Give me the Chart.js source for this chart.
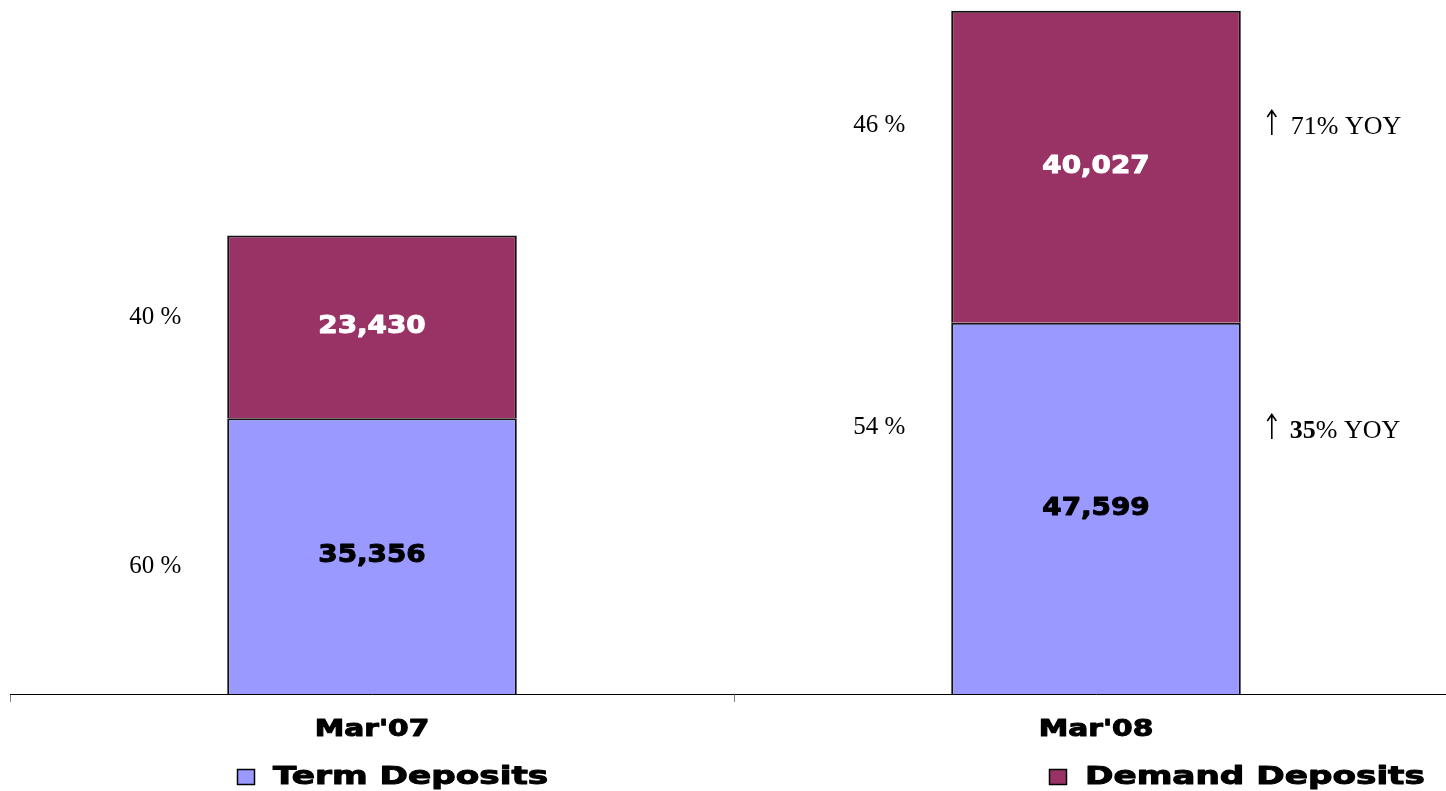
<!DOCTYPE html>
<html>
<head>
<meta charset="utf-8">
<script src="https://cdn.jsdelivr.net/npm/chart.js@4.4.1/dist/chart.umd.min.js"></script>
<style>
  html, body { margin: 0; padding: 0; background: #fff; overflow: hidden; }
  #wrap { width: 1458px; height: 791px; }
</style>
</head>
<body>
<div id="wrap"><canvas id="depositChart" width="1458" height="791"></canvas></div>
<script>
const categories = ["Mar'07", "Mar'08"];
const termDeposits = [35356, 47599];
const demandDeposits = [23430, 40027];

const termColor = "#9999FF";
const demandColor = "#993366";

const sansBold = "bold 24px 'DejaVu Sans'";
const serif = "25px 'Liberation Serif'";

// wide heavy text: stretch horizontally and stroke over the fill
function drawText(ctx, text, x, y, font, color, stretch, align) {
    ctx.save();
    ctx.translate(x, y);
    ctx.scale(stretch, 1);
    ctx.font = font;
    ctx.fillStyle = color;
    ctx.strokeStyle = color;
    ctx.lineWidth = 1;
    ctx.lineJoin = "round";
    ctx.textAlign = align || "center";
    ctx.textBaseline = "middle";
    ctx.fillText(text, 0, 0);
    ctx.strokeText(text, 0, 0);
    ctx.restore();
}

function drawPlain(ctx, text, x, y, font) {
    ctx.save();
    ctx.font = font;
    ctx.fillStyle = "#000";
    ctx.textAlign = "center";
    ctx.textBaseline = "middle";
    ctx.fillText(text, x, y);
    ctx.restore();
}

function drawArrow(ctx, x, y) {
    ctx.save();
    ctx.strokeStyle = "#000";
    ctx.lineWidth = 1.6;
    ctx.beginPath();
    ctx.moveTo(x, y + 12);
    ctx.lineTo(x, y - 12);
    ctx.moveTo(x - 4.5, y - 6);
    ctx.lineTo(x, y - 12.5);
    ctx.lineTo(x + 4.5, y - 6);
    ctx.stroke();
    ctx.restore();
}

function share(part, i) {
    return Math.round(part[i] / (termDeposits[i] + demandDeposits[i]) * 100);
}

function growth(series) {
    return Math.round((series[1] / series[0] - 1) * 100);
}

const labelPlugin = {
    id: "depositLabels",
    afterDraw(chart) {
        const ctx = chart.ctx;
        const xScale = chart.scales.x;
        const termBars = chart.getDatasetMeta(0).data;
        const demandBars = chart.getDatasetMeta(1).data;

        // values inside each segment
        termBars.forEach((bar, i) => {
            const mid = (bar.y + bar.base) / 2;
            drawText(ctx, termDeposits[i].toLocaleString("en-US"), bar.x, mid, sansBold, "#000", 1.16);
        });
        demandBars.forEach((bar, i) => {
            const mid = (bar.y + bar.base) / 2;
            drawText(ctx, demandDeposits[i].toLocaleString("en-US"), bar.x, mid, sansBold, "#fff", 1.16);
        });

        // share of total, left of each bar
        const shareY = { term: [566, 427], demand: [317, 125] };
        termBars.forEach((bar, i) => {
            const left = bar.x - bar.width / 2;
            drawPlain(ctx, share(termDeposits, i) + " %", left - 72, shareY.term[i], serif);
            drawPlain(ctx, share(demandDeposits, i) + " %", left - 72, shareY.demand[i], serif);
        });

        // year on year growth, right of the latest bar
        const last = termBars[termBars.length - 1];
        const gx = last.x + last.width / 2 + 31;
        drawArrow(ctx, gx, 123);
        drawArrow(ctx, gx, 427);

        ctx.save();
        ctx.fillStyle = "#000";
        ctx.textBaseline = "middle";
        ctx.textAlign = "left";
        ctx.font = "26px 'Liberation Serif'";
        ctx.fillText(growth(demandDeposits) + "% YOY", gx + 19, 127);

        ctx.font = "bold 26px 'Liberation Serif'";
        const num = String(growth(termDeposits));
        ctx.fillText(num, gx + 18, 431);
        const w = ctx.measureText(num).width;
        ctx.font = "26px 'Liberation Serif'";
        ctx.fillText("% YOY", gx + 18 + w, 431);
        ctx.restore();

        // category names under the axis
        categories.forEach((name, i) => {
            drawText(ctx, name, xScale.getPixelForValue(i), 730, "bold 23px 'DejaVu Sans'", "#000", 1.29);
        });

        // legend
        const legendItems = [
            { text: "Term Deposits", color: termColor, x: 237 },
            { text: "Demand Deposits", color: demandColor, x: 1049 }
        ];
        legendItems.forEach(item => {
            ctx.save();
            ctx.fillStyle = item.color;
            ctx.fillRect(item.x, 769, 17, 15);
            ctx.strokeStyle = "#000";
            ctx.lineWidth = 1.5;
            ctx.strokeRect(item.x + 0.5, 769.5, 17, 15);
            ctx.restore();
            drawText(ctx, item.text, item.x + 36, 777, "bold 25px 'DejaVu Sans'", "#000", 1.37, "left");
        });
    }
};

new Chart(document.getElementById("depositChart"), {
    type: "bar",
    data: {
        labels: categories,
        datasets: [
            {
                label: "Term Deposits",
                data: termDeposits,
                backgroundColor: termColor,
                borderColor: "#111",
                borderWidth: 2
            },
            {
                label: "Demand Deposits",
                data: demandDeposits,
                backgroundColor: demandColor,
                borderColor: "#111",
                borderWidth: 2
            }
        ]
    },
    options: {
        responsive: false,
        animation: false,
        devicePixelRatio: 1,
        barPercentage: 0.4,
        categoryPercentage: 1,
        layout: { padding: { left: 10, right: 0, top: 0, bottom: 89 } },
        plugins: {
            legend: { display: false },
            tooltip: { enabled: false }
        },
        scales: {
            x: {
                stacked: true,
                ticks: { display: false },
                grid: {
                    offset: true,
                    drawOnChartArea: false,
                    tickLength: 8,
                    color: "#808080"
                },
                border: { color: "#000", width: 1 }
            },
            y: {
                stacked: true,
                display: false,
                min: 0,
                max: 89000
            }
        }
    },
    plugins: [labelPlugin]
});
</script>
</body>
</html>
